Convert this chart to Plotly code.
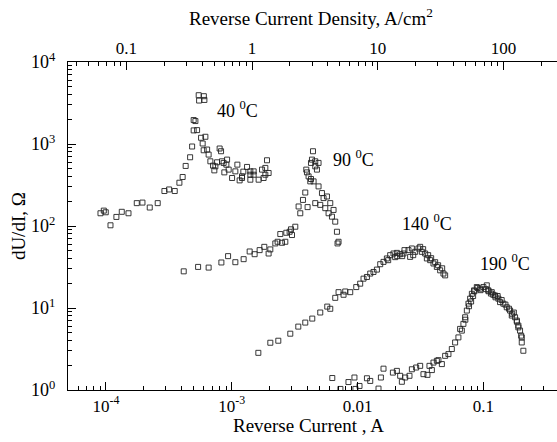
import math
import plotly.graph_objects as go

# Device area used for the top (current density) axis, cm^2
AREA_CM2 = 1.45e-3

# ---- 40 C ----
t40_current = [9.04e-5, 9.61e-5, 9.96e-5, 1.086e-4, 1.21e-4, 1.335e-4, 1.51e-4, 1.757e-4, 1.95e-4,
               2.228e-4, 2.578e-4, 2.915e-4, 3.177e-4, 3.52e-4, 3.835e-4, 4.07e-4, 4.30e-4, 4.665e-4,
               4.84e-4, 4.98e-4, 5.14e-4, 5.30e-4, 5.46e-4, 5.50e-4, 6.06e-4, 6.00e-4, 5.70e-4, 5.87e-4,
               6.17e-4, 5.98e-4, 6.37e-4, 6.55e-4, 6.76e-4, 7.10e-4, 7.27e-4, 7.64e-4, 8.01e-4, 8.22e-4,
               8.37e-4, 8.73e-4, 9.18e-4, 9.45e-4, 1.006e-3, 1.068e-3, 1.155e-3, 1.207e-3, 1.236e-3,
               1.323e-3, 1.405e-3, 1.493e-3, 1.636e-3, 1.741e-3, 1.849e-3, 1.907e-3, 1.964e-3, 1.792e-3,
               1.108e-3, 9.06e-4, 1.207e-3, 1.405e-3, 1.493e-3, 7.41e-4, 8.62e-4, 1.405e-3, 1.849e-3,
               4.98e-4]
t40_dudi = [143, 154, 147, 102, 129, 149, 143, 190, 193,
            168, 190, 267, 279, 267, 337, 396, 540, 689,
            932, 1465, 1905, 1477, 3936, 3388, 3445, 3828, 1191, 1014,
            1225, 839, 856, 743, 615, 545, 477, 598, 881, 816,
            615, 451, 645, 487, 385, 464, 360, 385, 460,
            525, 367, 422, 367, 487, 422, 633, 443, 385,
            560, 560, 403, 422, 464, 534, 588, 464, 511,
            1959]

# ---- 90 C ----
t90_current = [4.15e-4, 5.40e-4, 6.55e-4, 8.27e-4, 9.35e-4, 1.068e-3, 1.243e-3, 1.388e-3, 1.520e-3,
               1.666e-3, 1.815e-3, 1.964e-3, 2.026e-3, 2.220e-3, 2.315e-3, 2.432e-3, 2.509e-3, 2.666e-3,
               2.715e-3, 2.884e-3, 3.013e-3, 2.958e-3, 3.20e-3, 3.506e-3, 3.40e-3, 3.684e-3, 4.008e-3,
               3.842e-3, 3.913e-3, 4.081e-3, 3.963e-3, 4.266e-3, 4.425e-3, 4.344e-3, 4.613e-3, 4.899e-3,
               4.758e-3, 4.211e-3, 4.473e-3, 4.899e-3, 5.215e-3, 5.37e-3, 5.714e-3, 4.613e-3, 5.054e-3,
               5.54e-3, 6.07e-3, 6.447e-3, 5.885e-3, 6.264e-3, 6.65e-3, 6.86e-3, 7.065e-3, 6.936e-3,
               4.613e-3, 4.266e-3]
t90_dudi = [28.0, 31.7, 31.1, 35.9, 42.9, 36.2, 39.4, 48.9, 45.3,
            50.8, 55.7, 46.2, 51.8, 61.3, 64.2, 79.8, 62.4, 64.2,
            82.7, 85.1, 77.6, 91.1, 98.0, 143, 173, 208, 170,
            256, 487, 403, 451, 374, 816, 645, 615, 588,
            487, 350, 350, 304, 252, 219, 229, 190, 181,
            165, 190, 157, 143, 130, 113, 85.1, 64.2, 61.3,
            534, 588]

# ---- 140 C ----
t140_current = [1.627e-3, 2.026e-3, 2.345e-3, 2.92e-3, 3.381e-3, 3.842e-3, 4.368e-3, 5.054e-3, 5.746e-3,
                6.07e-3, 6.65e-3, 7.065e-3, 7.742e-3, 7.986e-3, 8.75e-3, 9.77e-3, 1.05e-2, 1.116e-2,
                1.188e-2, 1.262e-2, 1.34e-2, 1.426e-2, 1.515e-2, 1.609e-2, 1.712e-2, 1.818e-2, 1.932e-2,
                2.055e-2, 2.183e-2, 2.32e-2, 2.542e-2, 2.705e-2, 2.62e-2, 2.872e-2, 3.051e-2, 3.148e-2,
                3.247e-2, 3.45e-2, 3.56e-2, 3.78e-2, 4.016e-2, 4.273e-2, 4.54e-2, 4.822e-2, 4.974e-2,
                2.362e-2, 2.772e-2, 2.067e-2, 3.325e-2, 3.645e-2, 3.85e-2, 4.142e-2, 4.375e-2, 4.709e-2,
                1.753e-2, 1.993e-2, 2.265e-2]
t140_dudi = [2.84, 3.77, 3.99, 4.86, 5.93, 6.64, 7.43, 8.81, 10.4,
             9.78, 13.3, 15.6, 14.5, 15.9, 15.6, 18.0, 19.8, 22.8,
             23.9, 26.3, 27.5, 29.4, 34.2, 36.5, 40.2, 44.1, 46.2,
             47.0, 45.3, 46.2, 50.8, 53.2, 42.0, 48.4, 53.2, 55.7,
             48.4, 46.2, 40.2, 38.3, 34.9, 31.7, 28.8, 26.3, 25.0,
             50.8, 44.1, 42.9, 52.2, 44.1, 40.5, 36.2, 33.2, 30.5,
             38.3, 41.7, 42.9]

# ---- 190 C ----
t190_current = [6.30e-3, 7.31e-3, 8.47e-3, 9.45e-3, 9.62e-3, 1.037e-2, 1.188e-2, 1.262e-2, 1.468e-2,
                1.534e-2, 1.609e-2, 1.911e-2, 2.055e-2, 2.183e-2, 2.252e-2, 2.393e-2, 2.588e-2, 2.705e-2,
                2.926e-2, 3.148e-2, 3.344e-2, 3.597e-2, 3.732e-2, 3.90e-2, 4.016e-2, 4.273e-2, 4.40e-2,
                4.683e-2, 4.974e-2, 5.283e-2, 5.62e-2, 5.97e-2, 6.34e-2, 6.54e-2, 6.75e-2, 6.95e-2,
                7.17e-2, 7.40e-2, 7.62e-2, 7.86e-2, 8.11e-2, 8.45e-2, 8.88e-2, 9.43e-2, 0.1002,
                0.1066, 0.1098, 0.1168, 0.1241, 0.1318, 0.1359, 0.1444, 0.1537, 0.1633,
                0.1684, 0.1789, 0.1846, 0.1900, 0.1960, 0.2022, 0.2022, 0.2082,
                0.085, 0.09, 0.095, 0.105, 0.11, 0.115, 0.12, 0.125, 0.13, 0.14, 0.15, 0.16,
                0.17, 0.175, 0.185, 0.19, 0.20, 0.072, 0.077, 0.080, 0.083]
t190_dudi = [1.40, 1.03, 1.25, 1.42, 1.03, 1.12, 1.39, 1.29, 1.04,
             1.42, 1.82, 1.63, 1.71, 1.49, 1.26, 1.42, 1.49, 1.79,
             1.88, 1.97, 1.56, 1.53, 1.97, 1.75, 2.16, 2.27, 2.31,
             2.07, 2.61, 2.74, 3.16, 3.80, 4.38, 5.56, 5.30, 6.40,
             7.71, 9.31, 11.3, 13.0, 14.9, 16.4, 18.0, 17.2, 18.0,
             18.9, 16.4, 15.6, 14.2, 13.0, 11.8, 11.3, 10.2, 9.31,
             8.09, 7.71, 7.03, 6.10, 5.30, 4.38, 3.80, 3.01,
             16.0, 17.5, 16.5, 17.0, 16.0, 15.0, 14.5, 13.5, 14.0, 12.5, 11.0, 9.8,
             8.5, 8.8, 6.8, 5.8, 4.6, 7.2, 10.5, 12.0, 14.0]

series = [
    ("40 <sup>0</sup>C", t40_current, t40_dudi),
    ("90 <sup>0</sup>C", t90_current, t90_dudi),
    ("140 <sup>0</sup>C", t140_current, t140_dudi),
    ("190 <sup>0</sup>C", t190_current, t190_dudi),
]

# label anchor positions (current, dU/dI)
label_pos = {
    "40 <sup>0</sup>C": (1.108e-3, 2600),
    "90 <sup>0</sup>C": (9.25e-3, 675),
    "140 <sup>0</sup>C": (3.58e-2, 109),
    "190 <sup>0</sup>C": (0.149, 35.4),
}

x_tickvals = [1e-4, 1e-3, 1e-2, 1e-1]
x_ticktext = ["10<sup>-4</sup>", "10<sup>-3</sup>", "0.01", "0.1"]
top_tickvals = [0.1, 1, 10, 100]
top_ticktext = ["0.1", "1", "10", "100"]
y_tickvals = [1, 10, 100, 1000, 10000]
y_ticktext = ["10<sup>0</sup>", "10<sup>1</sup>", "10<sup>2</sup>", "10<sup>3</sup>", "10<sup>4</sup>"]

x_title = "Reverse Current , A"
top_title = "Reverse Current Density, A/cm<sup>2</sup>"
y_title = "dU/dI, Ω"


def minor_vals(lo_exp, hi_exp):
    out = []
    for e in range(lo_exp, hi_exp + 1):
        for m in range(2, 10):
            out.append(m * 10.0 ** e)
    return out


FONT = "Liberation Serif, Times New Roman, serif"
x_lo, x_hi = -4.302, -0.414
offs = -math.log10(AREA_CM2)

fig = go.Figure()
for name, xs, ys in series:
    fig.add_trace(go.Scatter(
        x=xs, y=ys, mode="markers", name=name, showlegend=False,
        marker=dict(symbol="square-open", size=5, color="#222", line=dict(width=0.9, color="#222")),
    ))
# invisible trace to activate the top density axis
fig.add_trace(go.Scatter(x=[1.0], y=[None], xaxis="x2", mode="markers",
                         showlegend=False, hoverinfo="skip"))

for name, (xa, ya) in label_pos.items():
    fig.add_annotation(x=math.log10(xa), y=math.log10(ya), text=name, showarrow=False,
                       font=dict(family=FONT, size=18, color="black"))

title_font = dict(family=FONT, size=19, color="black")
fig.add_annotation(xref="paper", yref="paper", x=0.491, y=-0.108, text=x_title, showarrow=False,
                   xanchor="center", yanchor="middle", font=title_font)
fig.add_annotation(xref="paper", yref="paper", x=0.497, y=1.137, text=top_title, showarrow=False,
                   xanchor="center", yanchor="middle", font=title_font)
fig.add_annotation(xref="paper", yref="paper", x=-0.102, y=0.5, text=y_title, showarrow=False,
                   textangle=-90, xanchor="center", yanchor="middle", font=title_font)

tickfont = dict(family=FONT, size=17, color="black")
fig.update_layout(
    width=557, height=442,
    margin=dict(l=68, r=0, t=62, b=52),
    paper_bgcolor="white", plot_bgcolor="white",
    xaxis=dict(type="log", range=[x_lo, x_hi], tickvals=x_tickvals, ticktext=x_ticktext, automargin=False,
               ticks="inside", ticklen=8, tickwidth=1, tickcolor="black",
               minor=dict(tickvals=minor_vals(-5, 0), ticks="inside", ticklen=4, tickwidth=1, tickcolor="black"),
               showline=True, linecolor="black", linewidth=1.3, showgrid=False, zeroline=False,
               tickfont=tickfont),
    xaxis2=dict(type="log", overlaying="x", side="top", range=[x_lo + offs, x_hi + offs], automargin=False,
                tickvals=top_tickvals, ticktext=top_ticktext,
                ticks="inside", ticklen=8, tickwidth=1, tickcolor="black",
                minor=dict(tickvals=minor_vals(-2, 3), ticks="inside", ticklen=4, tickwidth=1, tickcolor="black"),
                showline=True, linecolor="black", linewidth=1.3, showgrid=False, zeroline=False,
                tickfont=tickfont),
    yaxis=dict(type="log", range=[0, 4], tickvals=y_tickvals, ticktext=y_ticktext, automargin=False,
               ticks="inside", ticklen=8, tickwidth=1, tickcolor="black",
               minor=dict(tickvals=minor_vals(0, 3), ticks="inside", ticklen=4, tickwidth=1, tickcolor="black"),
               showline=True, linecolor="black", linewidth=1.3, showgrid=False, zeroline=False,
               tickfont=dict(family=FONT, size=18, color="black"), ticklabelstandoff=8),
)

# remove the browser's default 8px body margin so the figure sits at the page origin
fig.write_html("out.html", config={"displayModeBar": False},
               post_script="document.body.style.margin='0px';")
